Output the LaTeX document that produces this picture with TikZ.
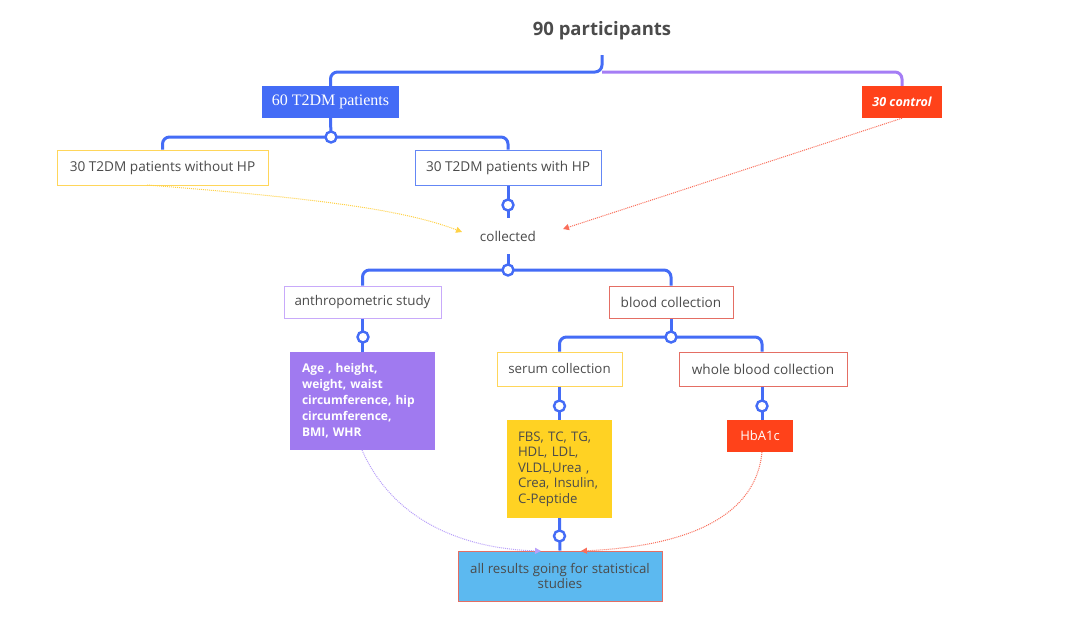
\documentclass[tikz,border=0pt]{standalone}
\usepackage{fontspec}
\setmainfont{Open Sans}
\newfontfamily\os{Open Sans}
\newfontfamily\serifbox{Liberation Serif}
\usetikzlibrary{arrows.meta}
\definecolor{lblue}{RGB}{68,108,246}
\definecolor{lpurp}{RGB}{165,125,245}
\definecolor{cred}{RGB}{255,66,26}
\definecolor{byell}{RGB}{255,214,90}
\definecolor{bblue}{RGB}{100,135,245}
\definecolor{blav}{RGB}{200,170,250}
\definecolor{bred}{RGB}{228,110,100}
\definecolor{fpurp}{RGB}{160,122,240}
\definecolor{fyell}{RGB}{255,210,35}
\definecolor{fsky}{RGB}{92,185,240}
\definecolor{tgray}{RGB}{75,75,75}
\definecolor{dyell}{RGB}{255,210,70}
\definecolor{dred}{RGB}{250,110,90}
\definecolor{dpurp}{RGB}{185,160,250}
\begin{document}
\begin{tikzpicture}[x=1pt,y=-1pt,
  tree/.style={draw=lblue,line width=3pt,rounded corners=7pt},
  ptree/.style={draw=lpurp,line width=3pt,rounded corners=7pt},
  knob/.style={circle,draw=lblue,fill=white,line width=2.4pt,minimum size=11pt,inner sep=0pt},
  obox/.style={draw,line width=1pt,fill=white,text=tgray,font=\fontsize{13.6}{15}\selectfont,inner sep=0pt},
  fbox/.style={inner sep=0pt},
  dotarrow/.style={line width=1pt,densely dotted,-{Triangle[length=6pt,width=6pt]}}]
\useasboundingbox (0,0) rectangle (1068,622);
\fill[white] (0,0) rectangle (1068,622);

% nodes
\node[text=tgray,font=\os\bfseries\fontsize{18.5}{20}\selectfont] (title) at (602,31) {90 participants};
\node[fbox,fill=lblue,text=white,minimum width=137pt,minimum height=32pt,font=\serifbox\fontsize{16}{18}\selectfont] (p60) at (330.5,102) {60 T2DM patients};
\node[fbox,fill=cred,text=white,minimum width=80pt,minimum height=32pt,font=\os\bfseries\itshape\fontsize{12.5}{14}\selectfont] (ctl) at (902,102) {30 control};
\node[obox,draw=byell,minimum width=211pt,minimum height=35pt] (nohp) at (162.5,167.5) {30 T2DM patients without HP};
\node[obox,draw=bblue,minimum width=186pt,minimum height=35pt] (withhp) at (508,167.5) {30 T2DM patients with HP};
\node[text=tgray,font=\fontsize{13.5}{15}\selectfont,inner sep=0pt] (coll) at (508,236) {collected};
\node[obox,draw=blav,minimum width=157pt,minimum height=32pt,font=\fontsize{13.4}{15}\selectfont] (anthro) at (362.5,302) {anthropometric study};
\node[obox,draw=bred,minimum width=124pt,minimum height=32pt] (blood) at (671,302) {blood collection};
\node[fbox,fill=fpurp,text=white,minimum width=145pt,minimum height=98pt,font=\os\bfseries\fontsize{12}{16}\selectfont,align=left,text width=121pt] (anth) at (362.5,401) {Age , height,\\weight, waist\\circumference, hip\\circumference,\\BMI, WHR};
\node[obox,draw=byell,minimum width=125pt,minimum height=34pt,font=\fontsize{13.3}{15}\selectfont] (serum) at (559.5,369) {serum collection};
\node[obox,draw=bred,minimum width=168pt,minimum height=34pt] (whole) at (763,369) {whole blood collection};
\node[fbox,fill=fyell,text=tgray,minimum width=105pt,minimum height=98pt,font=\fontsize{13.2}{15.5}\selectfont,align=left,text width=83pt] (lab) at (559.5,469) {FBS, TC, TG,\\HDL, LDL,\\VLDL,Urea ,\\Crea, Insulin,\\C-Peptide};
\node[fbox,fill=cred,text=white,minimum width=66pt,minimum height=32pt,font=\fontsize{13}{15}\selectfont] (hba) at (760,436) {HbA1c};
\node[draw=bred,line width=1pt,fill=fsky,text=tgray,minimum width=204pt,minimum height=50pt,inner sep=0pt,font=\fontsize{13.3}{15.5}\selectfont,align=center] (final) at (560,576) {all results going for statistical\\studies};

% junction coordinates
\coordinate (t0) at (602,55);
\coordinate (j0) at (602,72);
\coordinate (j1) at (331,137);
\coordinate (j2a) at (508,205);
\coordinate (j2b) at (508,218);
\coordinate (j3t) at (508,254);
\coordinate (j3) at (508,270);
\coordinate (j4) at (363,337);
\coordinate (j5) at (671,337);
\coordinate (j6) at (559.5,406);
\coordinate (j7) at (762,406);
\coordinate (j8) at (559.5,536);

% tree lines
\draw[ptree] (j0) -| (ctl.north);
\draw[tree] (t0) -- (j0) -| (p60.north);
\draw[tree] (p60.south) -- (j1);
\draw[tree] (j1) -| (nohp.north);
\draw[tree] (j1) -| (withhp.north);
\draw[tree] (withhp.south) -- (j2b);
\draw[tree] (j3t) -- (j3);
\draw[tree] (j3) -| (anthro.north);
\draw[tree] (j3) -| (blood.north);
\draw[tree] (anthro.south) -- (anth.north);
\draw[tree] (blood.south) -- (j5);
\draw[tree] (j5) -| (serum.north);
\draw[tree] (j5) -| (whole.north -| j7);
\draw[tree] (serum.south) -- (lab.north);
\draw[tree] (whole.south -| j7) -- (hba.north -| j7);
\draw[tree] (lab.south) -- (final.north);

% knobs
\node[knob] (k1) at (j1) {};
\node[knob] (k2) at (j2a) {};
\node[knob] (k3) at (j3) {};
\node[knob] (k4) at (j4) {};
\node[knob] (k5) at (j5) {};
\node[knob] (k6) at (j6) {};
\node[knob] (k7) at (j7) {};
\node[knob] (k8) at (j8) {};

% dotted arrows
\coordinate (ys) at (147,185);
\coordinate (ye) at (462,232);
\coordinate (re) at (563,229);
\coordinate (ps) at (362,450);
\coordinate (pe) at (541,551);
\coordinate (rs) at (762,452);
\coordinate (rre) at (581,551);
\draw[dotarrow,color=dyell] (ys) .. controls (300,197) and (400,208) .. (ye);
\draw[dotarrow,color=dred] (ctl.south) -- (re);
\draw[dotarrow,color=dpurp] (ps) .. controls (395,525) and (470,549) .. (pe);
\draw[dotarrow,color=dred] (rs) .. controls (755,525) and (670,547) .. (rre);
\end{tikzpicture}
\end{document}
